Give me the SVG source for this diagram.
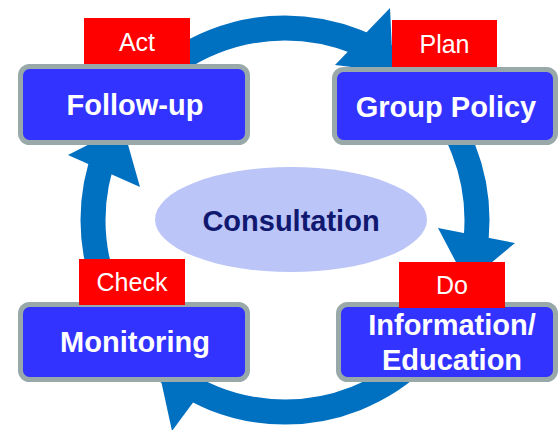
<svg xmlns="http://www.w3.org/2000/svg" width="558" height="430" viewBox="0 0 558 430">
  <style>
    .ring { fill: none; stroke: #0070C0; stroke-width: 25; }
    .head { fill: #0070C0; }
    .box { fill: #3333FF; stroke: #99A9A9; stroke-width: 5; }
    .tag { fill: #FF0000; }
    .tagtxt { font-family: "Liberation Sans", Arial, sans-serif; font-size: 25px; fill: #FFFFFF; text-anchor: middle; }
    .boxtxt { font-family: "Liberation Sans", Arial, sans-serif; font-size: 29px; font-weight: bold; fill: #FFFFFF; text-anchor: middle; }
    .centxt { font-family: "Liberation Sans", Arial, sans-serif; font-size: 29px; font-weight: bold; fill: #101870; text-anchor: middle; }
  </style>
  <rect width="558" height="430" fill="#FFFFFF"/>
  <g id="connectors">
    <circle class="ring" cx="285" cy="220" r="192"/>
    <polygon class="head" points="390,8 335,65 393,72"/>
    <polygon class="head" points="438,228 515,243 467,283"/>
    <polygon class="head" points="172,431 217,370 157,362"/>
    <polygon class="head" points="68,155 140,187 123,127"/>
  </g>
  <g id="consultation">
    <ellipse cx="291" cy="219.5" rx="136" ry="52.5" fill="#BBC5F7"/>
    <text class="centxt" x="291" y="231">Consultation</text>
  </g>
  <g id="follow-up">
    <rect class="box" x="20.5" y="66.5" width="227" height="76" rx="9"/>
    <text class="boxtxt" x="135" y="115">Follow-up</text>
    <rect class="tag" x="84" y="18" width="106" height="46"/>
    <text class="tagtxt" x="137" y="51">Act</text>
  </g>
  <g id="group-policy">
    <rect class="box" x="334.5" y="69.5" width="221" height="73" rx="9"/>
    <text class="boxtxt" x="446" y="117">Group Policy</text>
    <rect class="tag" x="392" y="20" width="105" height="47"/>
    <text class="tagtxt" x="444.5" y="53">Plan</text>
  </g>
  <g id="monitoring">
    <rect class="box" x="20.5" y="304.5" width="227" height="75" rx="9"/>
    <text class="boxtxt" x="135" y="352">Monitoring</text>
    <rect class="tag" x="79" y="259" width="106" height="46"/>
    <text class="tagtxt" x="132" y="291">Check</text>
  </g>
  <g id="information-education">
    <rect class="box" x="338.5" y="304.5" width="217" height="75" rx="9"/>
    <text class="boxtxt" x="452" y="335">Information/</text>
    <text class="boxtxt" x="452" y="370">Education</text>
    <rect class="tag" x="399" y="262" width="106" height="46"/>
    <text class="tagtxt" x="452" y="294">Do</text>
  </g>
</svg>
